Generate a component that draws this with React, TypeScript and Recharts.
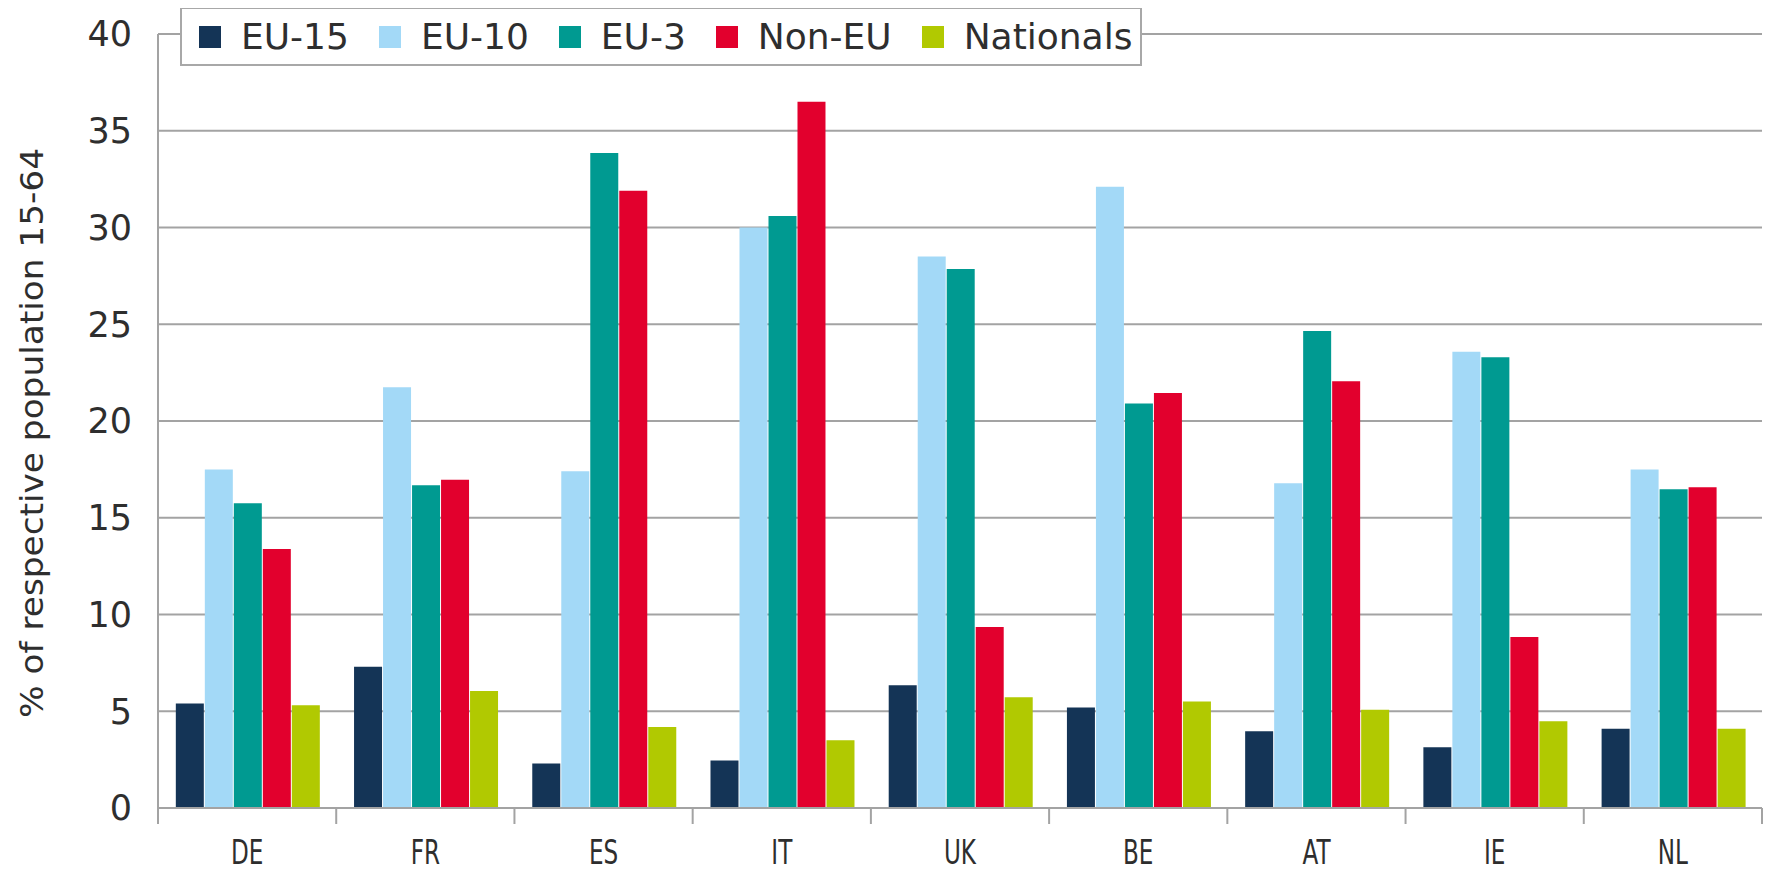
import React from 'react';
import { BarChart, Bar, XAxis, YAxis, CartesianGrid, Legend } from 'recharts';

const countries = ['DE', 'FR', 'ES', 'IT', 'UK', 'BE', 'AT', 'IE', 'NL'];
const eu15 = [5.4, 7.3, 2.3, 2.45, 6.34, 5.2, 3.96, 3.14, 4.09];
const eu10 = [17.5, 21.74, 17.4, 30.0, 28.5, 32.1, 16.78, 23.58, 17.5];
const eu3 = [15.75, 16.68, 33.85, 30.6, 27.85, 20.9, 24.65, 23.29, 16.47];
const nonEu = [13.38, 16.97, 31.9, 36.5, 9.35, 21.45, 22.05, 8.84, 16.58];
const nationals = [5.31, 6.05, 4.19, 3.5, 5.72, 5.51, 5.08, 4.48, 4.09];

const seriesKeys = ['eu15', 'eu10', 'eu3', 'nonEu', 'nationals'];
const seriesNames = ['EU-15', 'EU-10', 'EU-3', 'Non-EU', 'Nationals'];
const seriesColors = ['#143456', '#a3d9f7', '#009a91', '#e2002d', '#b1c901'];
const yTicks = [0, 5, 10, 15, 20, 25, 30, 35, 40];
const yLabel = '% of respective population 15-64';

const data = countries.map((c, i) => ({
  country: c,
  eu15: eu15[i],
  eu10: eu10[i],
  eu3: eu3[i],
  nonEu: nonEu[i],
  nationals: nationals[i],
}));

const FONT = '"DejaVu Sans", "Liberation Sans", sans-serif';
const TEXT = '#2e2e2e';
const GRID = '#a3a3a3';

const XTick = (props: any) => {
  const { x, y, payload, index } = props;
  const half = payload && typeof payload.offset === 'number' ? payload.offset : 0;
  const top = y - 16;
  return (
    <g>
      <line x1={x - half} y1={top} x2={x - half} y2={y} stroke={GRID} strokeWidth={2} />
      {index === countries.length - 1 ? (
        <line x1={x + half} y1={top} x2={x + half} y2={y} stroke={GRID} strokeWidth={2} />
      ) : null}
      <g transform={`translate(${x},${y + 40})`}>
        <text
          x={0}
          y={0}
          textAnchor="middle"
          transform="scale(0.68,1)"
          fontFamily={FONT}
          fontSize={34}
          fill={TEXT}
        >
          {payload.value}
        </text>
      </g>
    </g>
  );
};

const YLabel = (props: any) => {
  const vb = props.viewBox || {};
  const cx = (vb.x || 0) + 35;
  const cy = (vb.y || 0) + (vb.height || 0) / 2 + 12;
  return (
    <text
      x={cx}
      y={cy}
      transform={`rotate(-90, ${cx}, ${cy})`}
      textAnchor="middle"
      fontFamily={FONT}
      fontSize={32}
      fill={TEXT}
      textLength={570}
      lengthAdjust="spacingAndGlyphs"
    >
      {yLabel}
    </text>
  );
};

const renderLegend = () => (
  <div
    style={{
      display: 'flex',
      alignItems: 'center',
      width: 962,
      height: 59,
      boxSizing: 'border-box',
      border: '2px solid #a8a8a8',
      background: '#ffffff',
      paddingLeft: 17,
      fontFamily: FONT,
      fontSize: 36,
      color: TEXT,
      whiteSpace: 'nowrap',
      overflow: 'hidden',
    }}
  >
    {seriesNames.map((n, i) => (
      <div key={n} style={{ display: 'flex', alignItems: 'center', marginRight: i < seriesNames.length - 1 ? 30 : 0 }}>
        <span
          style={{
            display: 'inline-block',
            width: 22,
            height: 22,
            background: seriesColors[i],
            marginRight: 20,
          }}
        />
        <span style={{ lineHeight: '42px' }}>{n}</span>
      </div>
    ))}
  </div>
);

export default function App() {
  return (
    <div style={{ width: 1760, height: 866, background: '#fff' }}>
      <BarChart
        width={1760}
        height={866}
        data={data}
        margin={{ top: 26, right: 6, bottom: 0, left: 0 }}
        barCategoryGap="10%"
        barGap={1}
      >
        <CartesianGrid vertical={false} stroke={GRID} strokeWidth={2} />
        <XAxis
          dataKey="country"
          height={66}
          tickLine={false}
          tickSize={16}
          tickMargin={0}
          axisLine={{ stroke: GRID, strokeWidth: 2 }}
          tick={<XTick />}
          interval={0}
        />
        <YAxis
          width={150}
          domain={[0, 40]}
          ticks={yTicks}
          tickLine={false}
          tickSize={0}
          tickMargin={26}
          axisLine={{ stroke: GRID, strokeWidth: 2 }}
          tick={{ fontFamily: FONT, fontSize: 35, fill: TEXT }}
          label={<YLabel />}
        />
        <Legend
          layout="horizontal"
          verticalAlign="middle"
          align="center"
          content={renderLegend}
          wrapperStyle={{ top: -1, left: 172, width: 962, height: 59 }}
        />
        {seriesKeys.map((k, i) => (
          <Bar key={k} dataKey={k} name={seriesNames[i]} fill={seriesColors[i]} isAnimationActive={false} />
        ))}
      </BarChart>
    </div>
  );
}
